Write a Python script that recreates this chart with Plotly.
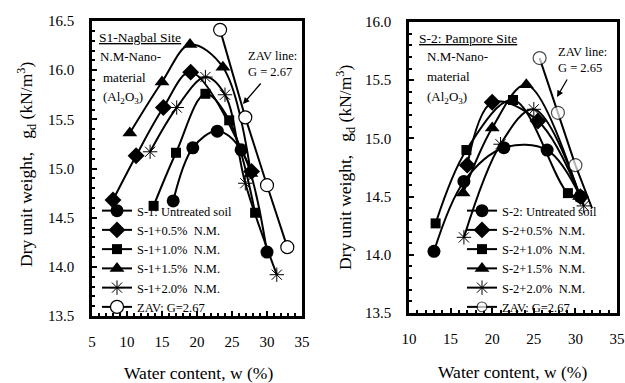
import plotly.graph_objects as go

# ---------------- data: left panel (S-1 Nagbal) ----------------
s1_untreated_w = [16.6, 19.4, 22.9, 26.3, 30.0]
s1_untreated_g = [14.67, 15.21, 15.38, 15.19, 14.15]
s1_05_w = [8.0, 11.3, 15.2, 19.1, 27.8]
s1_05_g = [14.68, 15.13, 15.62, 15.98, 14.97]
s1_10_w = [13.8, 17.0, 21.2, 24.6, 28.3]
s1_10_g = [14.62, 15.16, 15.76, 15.49, 14.55]
s1_15_w = [10.4, 15.0, 19.0, 23.7, 27.7]
s1_15_g = [15.36, 15.88, 16.26, 16.03, 14.95]
s1_20_w = [13.3, 17.1, 21.2, 24.0, 26.9, 31.4]
s1_20_g = [15.17, 15.62, 15.93, 15.75, 14.85, 13.92]
s1_zav_w = [23.3, 26.9, 30.0, 32.9]
s1_zav_g = [16.41, 15.52, 14.83, 14.20]

# ---------------- data: right panel (S-2 Pampore) ----------------
s2_untreated_w = [13.0, 16.6, 21.4, 26.6, 30.6]
s2_untreated_g = [14.03, 14.63, 14.92, 14.90, 14.50]
s2_05_w = [17.0, 20.0, 25.5, 30.6]
s2_05_g = [14.77, 15.31, 15.15, 14.50]
s2_10_w = [13.2, 16.9, 22.5, 29.1, 30.6]
s2_10_g = [14.27, 14.90, 15.33, 14.53, 14.50]
s2_15_w = [16.5, 20.0, 24.1, 30.5]
s2_15_g = [14.53, 15.09, 15.46, 14.50]
s2_20_w = [16.6, 21.0, 25.0, 31.0]
s2_20_g = [14.15, 14.95, 15.25, 14.42]
s2_zav_w = [25.7, 27.9, 30.0, 32.0]
s2_zav_g = [15.69, 15.22, 14.77, 14.40]

left_names = ["S-1: Untreated soil", "S-1+0.5%  N.M.", "S-1+1.0%  N.M.",
              "S-1+1.5%  N.M.", "S-1+2.0%  N.M.", "ZAV: G=2.67"]
right_names = ["S-2: Untreated soil", "S-2+0.5%  N.M.", "S-2+1.0%  N.M.",
               "S-2+1.5%  N.M.", "S-2+2.0%  N.M.", "ZAV: G=2.67"]

FONT = "Liberation Serif"
fig = go.Figure()

styles = [
    dict(symbol="circle", size=13, color="black"),
    dict(symbol="diamond", size=13, color="black"),
    dict(symbol="square", size=10, color="black"),
    dict(symbol="triangle-up", size=13, color="black"),
    dict(symbol="asterisk-open", size=12, color="black", line=dict(color="black", width=1)),
    dict(symbol="circle", size=13, color="white", line=dict(color="black", width=1.2)),
]

left_data = [(s1_untreated_w, s1_untreated_g), (s1_05_w, s1_05_g), (s1_10_w, s1_10_g),
             (s1_15_w, s1_15_g), (s1_20_w, s1_20_g), (s1_zav_w, s1_zav_g)]
right_data = [(s2_untreated_w, s2_untreated_g), (s2_05_w, s2_05_g), (s2_10_w, s2_10_g),
              (s2_15_w, s2_15_g), (s2_20_w, s2_20_g), (s2_zav_w, s2_zav_g)]

for i, ((w, g), name) in enumerate(zip(left_data, left_names)):
    zav = i == 5
    fig.add_trace(go.Scatter(
        x=w, y=g, name=name, mode="lines+markers",
        line=dict(color="black", width=2, shape="linear" if zav else "spline", smoothing=1.0),
        marker=styles[i], xaxis="x", yaxis="y", legend="legend"))

for i, ((w, g), name) in enumerate(zip(right_data, right_names)):
    zav = i == 5
    mk = dict(styles[i])
    if zav:
        mk["size"] = [13, 13, 13, 0]
    fig.add_trace(go.Scatter(
        x=w, y=g, name=name, mode="lines+markers",
        line=dict(color="black", width=2, shape="linear" if zav else "spline", smoothing=1.0),
        marker=mk, xaxis="x2", yaxis="y2", legend="legend2"))

W, H = 625, 383
def fx(px):
    return px / W
def fy(py):
    return 1 - py / H

axis_common = dict(
    showline=True, linecolor="black", linewidth=2.5, mirror=True,
    ticks="inside", ticklen=5, tickwidth=1.5, tickcolor="black",
    showgrid=False, zeroline=False, automargin=False, ticklabeloverflow="allow",
    tickfont=dict(family=FONT, size=15, color="black"),
)

title_y = "Dry unit weight,   g<sub>d</sub> (kN/m<sup>3</sup>)"
title_x = "Water content, w (%)"

fig.update_layout(
    width=W, height=H, margin=dict(l=0, r=0, t=0, b=0, autoexpand=False),
    paper_bgcolor="white", plot_bgcolor="white",
    font=dict(family=FONT, color="black"),
    xaxis=dict(domain=[fx(92), fx(302)], range=[5, 35], dtick=5, anchor="y",
               minor=dict(ticks="inside", ticklen=3, dtick=1, tickcolor="black"),
               ticklabelstandoff=10, **axis_common),
    yaxis=dict(domain=[fy(316), fy(21)], range=[13.5, 16.5], dtick=0.5, tickformat=".1f",
               anchor="x",
               minor=dict(ticks="inside", ticklen=3, dtick=0.1, tickcolor="black"),
               ticklabelstandoff=12, **axis_common),
    xaxis2=dict(domain=[fx(409), fx(617)], range=[10, 35], dtick=5, anchor="y2",
                minor=dict(ticks="inside", ticklen=3, dtick=1, tickcolor="black"),
                ticklabelstandoff=10, **axis_common),
    yaxis2=dict(domain=[fy(313), fy(22)], range=[13.5, 16.0], dtick=0.5, tickformat=".1f",
                anchor="x2",
                minor=dict(ticks="inside", ticklen=3, dtick=0.1, tickcolor="black"),
                ticklabelstandoff=12, **axis_common),
    legend=dict(x=fx(97), y=fy(196), xanchor="left", yanchor="top",
                bgcolor="rgba(255,255,255,0)", font=dict(family=FONT, size=12.5),
                tracegroupgap=0, itemwidth=30),
    legend2=dict(x=fx(462), y=fy(196), xanchor="left", yanchor="top",
                 bgcolor="rgba(255,255,255,0)", font=dict(family=FONT, size=12.5),
                 tracegroupgap=0, itemwidth=30),
    showlegend=True,
)

ann_font = dict(family=FONT, size=13.5, color="black")
small_font = dict(family=FONT, size=13, color="black")
zav_font = dict(family=FONT, size=12.5, color="black")
annots = [
    dict(x=fx(97), y=fy(37), text="<u>S1-Nagbal Site</u>", font=ann_font),
    dict(x=fx(98), y=fy(57), text="N.M-Nano-", font=small_font),
    dict(x=fx(101), y=fy(77), text="material", font=small_font),
    dict(x=fx(101), y=fy(97), text="(Al<sub>2</sub>O<sub>3</sub>)", font=small_font),
    dict(x=fx(246), y=fy(64), text="ZAV line:<br>G = 2.67", font=zav_font, align="left"),
    dict(x=fx(417), y=fy(38), text="<u>S-2: Pampore Site</u>", font=ann_font),
    dict(x=fx(425), y=fy(57), text="N.M-Nano-", font=small_font),
    dict(x=fx(425), y=fy(76), text="material", font=small_font),
    dict(x=fx(425), y=fy(97), text="(Al<sub>2</sub>O<sub>3</sub>)", font=small_font),
    dict(x=fx(556), y=fy(60), text="ZAV line:<br>G = 2.65", font=zav_font, align="left"),
]
for a in annots:
    fig.add_annotation(xref="paper", yref="paper", xanchor="left", yanchor="middle",
                       showarrow=False, **a)

# axis titles
title_font = dict(family=FONT, size=17.5, color="black")
for (x, y, txt, ang) in [(26, 165, title_y, -90), (345, 168, title_y, -90),
                          (198, 373, title_x, 0), (512, 372, title_x, 0)]:
    fig.add_annotation(xref="paper", yref="paper", x=fx(x), y=fy(y), text=txt,
                       textangle=ang, showarrow=False, xanchor="center", yanchor="middle",
                       font=title_font)

# arrows pointing to the ZAV lines (offsets in pixels)
fig.add_annotation(xref="paper", yref="paper", x=fx(243), y=fy(104), ax=19, ay=-22,
                   axref="pixel", ayref="pixel", text="", showarrow=True,
                   arrowhead=2, arrowsize=1, arrowwidth=1.3, arrowcolor="black")
fig.add_annotation(xref="paper", yref="paper", x=fx(557), y=fy(97), ax=11, ay=-19,
                   axref="pixel", ayref="pixel", text="", showarrow=True,
                   arrowhead=2, arrowsize=1, arrowwidth=1.3, arrowcolor="black")

fig.write_html("out.html", config={"displayModeBar": False},
               post_script="document.body.style.margin='0';"
                           "document.body.style.overflow='hidden';"
                           "document.documentElement.style.overflow='hidden';")
